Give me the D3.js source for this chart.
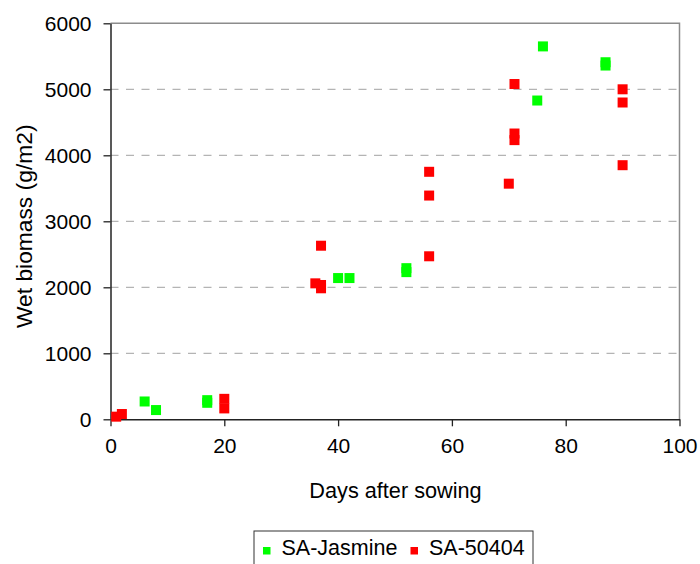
<!DOCTYPE html>
<html>
<head>
<meta charset="utf-8">
<script src="https://cdn.jsdelivr.net/npm/d3@7"></script>
<style>
  html, body { margin: 0; padding: 0; background: #fff; }
  svg { display: block; font-family: "Liberation Sans", Arial, sans-serif; }
</style>
</head>
<body>
<svg id="chart" width="700" height="564"></svg>
<script>
// Wet biomass sampled on days after sowing, two rice varieties
const seriesNames = ["SA-Jasmine", "SA-50404"];
const seriesColors = ["#00ff00", "#ff0000"];

const jasmineDays   = [6, 8, 17, 17, 40, 42, 52, 52, 75, 76, 87, 87];
const jasmineValues = [270, 140, 290, 250, 2140, 2140, 2290, 2230, 4830, 5650, 5410, 5360];

const sa50404Days   = [1, 2, 20, 20, 36, 37, 37, 37, 56, 56, 56, 70, 71, 71, 71, 90, 90, 90];
const sa50404Values = [40, 80, 310, 165, 2060, 2630, 2035, 1985, 3750, 3390, 2470, 3570, 5080, 4330, 4230, 5000, 4800, 3850];

const xTicks = [0, 20, 40, 60, 80, 100];
const yTicks = [0, 1000, 2000, 3000, 4000, 5000, 6000];

const xTitle = "Days after sowing";
const yTitle = "Wet biomass (g/m2)";

const svg = d3.select("#chart");
const margin = { left: 110.5, right: 20.5, top: 23.3, bottom: 144.7 };
const W = 700, H = 564;
const plotW = W - margin.left - margin.right;
const plotH = H - margin.top - margin.bottom;

const x = d3.scaleLinear().domain([0, 100]).range([margin.left, margin.left + plotW]);
const y = d3.scaleLinear().domain([0, 6000]).range([margin.top + plotH, margin.top]);

const FONT = 21;

// dashed horizontal gridlines
svg.append("g")
  .selectAll("line")
  .data(yTicks.filter(v => v > 0 && v < 6000))
  .join("line")
  .attr("x1", x(0)).attr("x2", x(100))
  .attr("y1", d => y(d)).attr("y2", d => y(d))
  .attr("stroke", "#b4b4b4")
  .attr("stroke-width", 1.2)
  .attr("stroke-dasharray", "8,7.5");

// plot frame: top and right edges in grey
svg.append("path")
  .attr("d", `M${x(0)},${y(6000)}H${x(100)}V${y(0)}`)
  .attr("fill", "none")
  .attr("stroke", "#8c8c8c")
  .attr("stroke-width", 1.5);

// y axis
const yAxis = svg.append("g")
  .attr("transform", `translate(${x(0)},0)`)
  .call(d3.axisLeft(y).tickValues(yTicks).tickFormat(d3.format("d")).tickSize(7).tickPadding(12).tickSizeOuter(0));
yAxis.select(".domain").attr("stroke", "#222").attr("stroke-width", 1.5);
yAxis.selectAll(".tick line").attr("stroke", "#222").attr("stroke-width", 1.3);
yAxis.selectAll(".tick text").attr("font-size", FONT).attr("fill", "#000")
  .attr("font-family", "'Liberation Sans', Arial, sans-serif");

// x axis
const xAxis = svg.append("g")
  .attr("transform", `translate(0,${y(0)})`)
  .call(d3.axisBottom(x).tickValues(xTicks).tickFormat(d3.format("d")).tickSize(7).tickPadding(12).tickSizeOuter(0));
xAxis.select(".domain").attr("stroke", "#222").attr("stroke-width", 1.5);
xAxis.selectAll(".tick line").attr("stroke", "#222").attr("stroke-width", 1.3);
xAxis.selectAll(".tick text").attr("font-size", FONT).attr("fill", "#000")
  .attr("font-family", "'Liberation Sans', Arial, sans-serif");

// axis titles
svg.append("text")
  .attr("x", (x(0) + x(100)) / 2 + 0.5)
  .attr("y", 498)
  .attr("text-anchor", "middle")
  .attr("font-size", 21.7)
  .attr("fill", "#000")
  .text(xTitle);

svg.append("text")
  .attr("transform", `translate(32,${(y(0) + y(6000)) / 2 + 5}) rotate(-90)`)
  .attr("text-anchor", "middle")
  .attr("font-size", 22.8)
  .attr("fill", "#000")
  .text(yTitle);

// data markers
const SQ = 10;
const series = [
  { name: seriesNames[0], color: seriesColors[0], pts: jasmineDays.map((d, i) => [d, jasmineValues[i]]) },
  { name: seriesNames[1], color: seriesColors[1], pts: sa50404Days.map((d, i) => [d, sa50404Values[i]]) }
];

series.forEach(s => {
  svg.append("g")
    .selectAll("rect")
    .data(s.pts)
    .join("rect")
    .attr("x", d => x(d[0]) - SQ / 2)
    .attr("y", d => y(d[1]) - SQ / 2)
    .attr("width", SQ)
    .attr("height", SQ)
    .attr("fill", s.color);
});

// legend
const legend = svg.append("g");
const legX = 254, legY = 531;
legend.append("rect")
  .attr("x", legX).attr("y", legY)
  .attr("width", 279).attr("height", 40)
  .attr("fill", "#fff")
  .attr("stroke", "#333")
  .attr("stroke-width", 1);

const itemStarts = [legX + 9, legX + 156.5];
series.forEach((s, i) => {
  legend.append("rect")
    .attr("x", itemStarts[i]).attr("y", 547)
    .attr("width", 7.5).attr("height", 7.5)
    .attr("fill", s.color);
  legend.append("text")
    .attr("x", itemStarts[i] + 18.5)
    .attr("y", 555)
    .attr("font-size", 21.5)
    .attr("fill", "#000")
    .text(s.name);
});
</script>
</body>
</html>
